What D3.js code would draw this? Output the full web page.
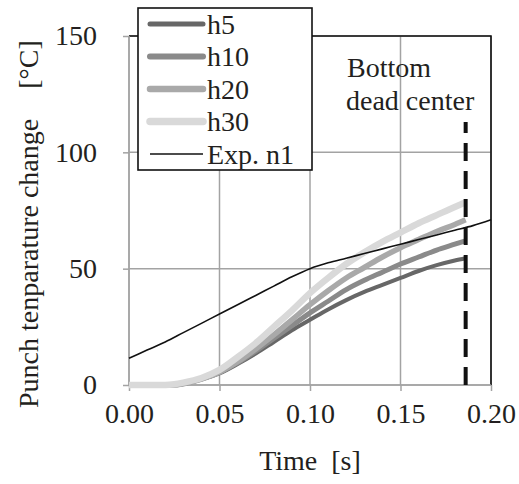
<!DOCTYPE html>
<html>
<head>
<meta charset="utf-8">
<script src="https://cdn.jsdelivr.net/npm/d3@7/dist/d3.min.js"></script>
<style>
  html, body { margin: 0; padding: 0; background: #fff; }
  svg text { font-family: "Liberation Serif", "Times New Roman", serif; fill: #231f20; }
</style>
</head>
<body>
<svg id="chart" width="519" height="484"></svg>
<script>
// Simulated punch temperature change for each mesh size, and the experiment
const simTimes = [0, 0.02, 0.025, 0.03, 0.04, 0.05, 0.06, 0.07, 0.08, 0.09, 0.10, 0.11, 0.12, 0.13, 0.14, 0.15, 0.16, 0.17, 0.18, 0.186];
const h5  = [0, 0, 0, 0.4, 2.5, 5.0, 9.0, 13.5, 18.5, 23.5, 28.0, 32.5, 36.5, 40.0, 43.0, 46.0, 49.0, 51.5, 53.5, 54.5];
const h10 = [0, 0, 0, 0.5, 2.5, 5.5, 9.5, 14.5, 20.0, 25.5, 31.0, 36.0, 41.0, 45.0, 48.5, 52.0, 55.0, 58.0, 60.5, 62.0];
const h20 = [0, 0, 0, 0.5, 2.5, 5.5, 10.0, 15.5, 21.5, 28.0, 34.5, 40.5, 46.0, 50.5, 55.0, 59.0, 62.5, 66.0, 69.0, 71.0];
const h30 = [0, 0, 0.3, 1.0, 3.0, 6.5, 12.0, 18.0, 25.0, 32.0, 39.5, 46.0, 52.0, 57.0, 61.5, 65.5, 69.5, 73.0, 76.5, 78.5];

const expTimes = [0, 0.01, 0.02, 0.03, 0.04, 0.05, 0.06, 0.07, 0.08, 0.09, 0.10, 0.11, 0.12, 0.13, 0.14, 0.15, 0.16, 0.17, 0.18, 0.19, 0.20];
const expN1    = [11.5, 15, 18.5, 22.5, 26.5, 30.5, 34.5, 38.5, 42.5, 46.5, 50, 52.5, 54.5, 56.5, 58.5, 60.5, 62.5, 64.5, 66.5, 68.5, 71];

const seriesNames = ["h5", "h10", "h20", "h30", "Exp. n1"];
const xTicks = [0, 0.05, 0.10, 0.15, 0.20];
const yTicks = [0, 50, 100, 150];
const bottomDeadCenter = { time: 0.186, top: 113 };

const margin = { left: 129, right: 28, top: 36, bottom: 99 };
const W = 519, H = 484;

const svg = d3.select("#chart");
const x = d3.scaleLinear().domain([0, 0.2]).range([margin.left, W - margin.right]);
const y = d3.scaleLinear().domain([0, 150]).range([H - margin.bottom, margin.top]);

const gridColor = "#a3a3a3";

// gridlines
svg.append("g")
  .selectAll("line").data(xTicks).join("line")
  .attr("x1", d => x(d)).attr("x2", d => x(d))
  .attr("y1", y(0)).attr("y2", y(150))
  .attr("stroke", gridColor).attr("stroke-width", 1.5);
svg.append("g")
  .selectAll("line").data(yTicks).join("line")
  .attr("x1", x(0)).attr("x2", x(0.2))
  .attr("y1", d => y(d)).attr("y2", d => y(d))
  .attr("stroke", gridColor).attr("stroke-width", 1.5);

// frame: top and right edges in black
svg.append("path")
  .attr("d", `M${x(0)},${y(150)}H${x(0.2)}V${y(0)}`)
  .attr("fill", "none").attr("stroke", "#111").attr("stroke-width", 1.6);

// axes
const xAxis = svg.append("g")
  .attr("transform", `translate(0,${y(0)})`)
  .call(d3.axisBottom(x).tickValues(xTicks).tickFormat(d3.format(".2f")).tickSize(6).tickPadding(12));
const yAxis = svg.append("g")
  .attr("transform", `translate(${x(0)},0)`)
  .call(d3.axisLeft(y).tickValues(yTicks).tickFormat(d3.format("d")).tickSize(6).tickPadding(26));
[xAxis, yAxis].forEach(g => {
  g.select(".domain").attr("stroke", gridColor).attr("stroke-width", 1.5);
  g.selectAll(".tick line").attr("stroke", gridColor).attr("stroke-width", 1.5);
  g.selectAll(".tick text")
    .style("font-family", '"Liberation Serif", "Times New Roman", serif')
    .style("font-size", "28px").attr("fill", "#231f20");
});
xAxis.select(".domain").attr("d", `M${x(0)},0H${x(0.2)}`);
yAxis.select(".domain").attr("d", `M0,${y(0)}V${y(150)}`);

// simulated curves; the lightest, widest curve is drawn last so it lies on top
const styles = [
  { name: "h5",  vals: h5,  color: "#676767", width: 4 },
  { name: "h10", vals: h10, color: "#8a8a8a", width: 5 },
  { name: "h20", vals: h20, color: "#a9a9a9", width: 5.5 },
  { name: "h30", vals: h30, color: "#d9d9d9", width: 6.5 }
];
const line = d3.line().curve(d3.curveMonotoneX).x(d => x(d[0])).y(d => y(d[1]));
styles.forEach(s => {
  svg.append("path")
    .datum(simTimes.map((t, k) => [t, s.vals[k]]))
    .attr("d", line)
    .attr("fill", "none").attr("stroke", s.color)
    .attr("stroke-width", s.width).attr("stroke-linecap", "butt");
});

// experiment
svg.append("path")
  .datum(expTimes.map((t, k) => [t, expN1[k]]))
  .attr("d", line)
  .attr("fill", "none").attr("stroke", "#111").attr("stroke-width", 1.6);

// bottom dead center marker
svg.append("line")
  .attr("x1", x(bottomDeadCenter.time)).attr("x2", x(bottomDeadCenter.time))
  .attr("y1", y(0)).attr("y2", y(bottomDeadCenter.top))
  .attr("stroke", "#111").attr("stroke-width", 4)
  .attr("stroke-dasharray", "18,10");
svg.append("text").attr("x", 347).attr("y", 77).style("font-size", "28px").text("Bottom");
svg.append("text").attr("x", 346).attr("y", 110).style("font-size", "28px").text("dead center");

// legend
const lg = svg.append("g");
lg.append("rect")
  .attr("x", 138).attr("y", 8).attr("width", 174).attr("height", 162)
  .attr("fill", "#fff").attr("stroke", "#111").attr("stroke-width", 1.6);
const legendItems = [
  ...styles.map(s => ({ name: s.name, color: s.color, width: s.width, cap: "round" })),
  { name: seriesNames[4], color: "#111", width: 1.6, cap: "butt" }
];
legendItems.forEach((d, i) => {
  const ly = 24 + i * 32.5;
  lg.append("line")
    .attr("x1", 150).attr("x2", 203).attr("y1", ly).attr("y2", ly)
    .attr("stroke", d.color).attr("stroke-width", d.width + (d.cap === "round" ? 1 : 0))
    .attr("stroke-linecap", d.cap);
  lg.append("text").attr("x", 207).attr("y", ly + 9.5)
    .style("font-size", "28px").text(d.name);
});

// axis titles
svg.append("text")
  .attr("x", (x(0) + x(0.2)) / 2).attr("y", 470)
  .attr("text-anchor", "middle").style("font-size", "28px")
  .attr("xml:space", "preserve").text("Time  [s]");
const yTitle = svg.append("text")
  .attr("transform", "translate(38,408) rotate(-90)")
  .attr("text-anchor", "start").style("font-size", "28px")
  .text("Punch tenparature change");
yTitle.append("tspan").attr("dx", 30).text("[°C]");
</script>
</body>
</html>
